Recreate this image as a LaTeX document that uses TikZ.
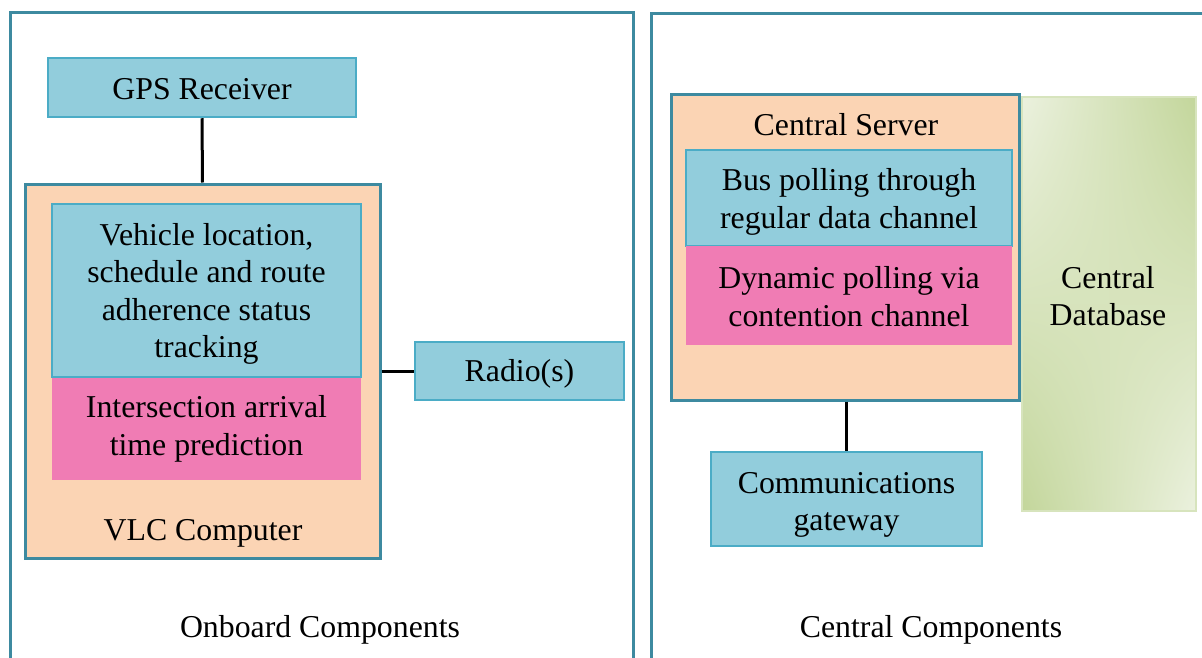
\documentclass[tikz,border=0pt]{standalone}
\usepackage{fontspec}
\setmainfont{Liberation Serif}
\usetikzlibrary{shadings}
\definecolor{panelc}{HTML}{3D8AA0}
\definecolor{bluef}{HTML}{92CDDC}
\definecolor{bluel}{HTML}{4BACC6}
\definecolor{peach}{HTML}{FBD4B4}
\definecolor{pinkf}{HTML}{F07CB4}
\definecolor{gdark}{HTML}{C3D69B}
\definecolor{glight}{HTML}{EBF1DE}
\definecolor{gline}{HTML}{D7E4BD}
\begin{document}
\begin{tikzpicture}[x=1pt,y=-1pt,
  txt/.style={font=\fontsize{31.8}{37.5}\selectfont, align=center, inner sep=0pt, text=black},
  bluebox/.style={draw=bluel, fill=bluef, line width=2.5pt, inner sep=0pt},
  pinkbox/.style={fill=pinkf, inner sep=0pt},
  peachbox/.style={draw=panelc, fill=peach, line width=3pt, inner sep=0pt},
  panel/.style={draw=panelc, line width=3pt},
  conn/.style={draw=black, line width=3pt}]
\useasboundingbox[fill=white] (0,0) rectangle (1202,658);
% panels
\draw[panel] (10,700) -- (10,13) -- (633,13) -- (633,700);
\draw[panel] (651,700) -- (651,14) -- (1230,14);
% left side
\node[bluebox, minimum width=308pt, minimum height=59pt] (gps) at (202,87.5) {};
\node[txt] (gpst) at (202,89) {GPS Receiver};
\node[peachbox, minimum width=355pt, minimum height=374pt] (vlc) at (202.5,371) {};
\node[bluebox, minimum width=309pt, minimum height=173pt] (track) at (206.5,290.5) {};
\node[txt] (trackt) at (206.5,294) {Vehicle location,\\schedule and route\\adherence status\\tracking};
\node[pinkbox, minimum width=309pt, minimum height=102pt] (pred) at (206.5,428.5) {};
\node[txt] (predt) at (206.5,429) {Intersection arrival\\time prediction};
\node[txt] (vlclabel) at (203,533) {VLC Computer};
\node[bluebox, minimum width=209pt, minimum height=58pt] (radio) at (519.5,371) {};
\node[txt] (radiot) at (519.5,374) {Radio(s)};
\draw[conn] (gps.south) -- (vlc.north);
\draw[conn] (vlc.east) -- (radio.west);
\node[txt] (onboard) at (320,630) {Onboard Components};
% right side
\shadedraw[upper left=glight, upper right=gdark, lower left=gdark, lower right=glight, draw=gline, line width=2pt] (1022,97) rectangle (1196,511);
\node[txt] (db) at (1108,296) {Central\\Database};
\node[peachbox, minimum width=348pt, minimum height=305pt] (server) at (845,247.5) {};
\node[txt] (serverlabel) at (846,125) {Central Server};
\node[bluebox, minimum width=326pt, minimum height=96pt] (poll) at (849,198) {};
\node[txt] (pollt) at (849,202) {Bus polling through\\regular data channel};
\node[pinkbox, minimum width=326pt, minimum height=99pt] (dyn) at (849,295.5) {};
\node[txt] (dynt) at (849,296.5) {Dynamic polling via\\contention channel};
\node[bluebox, minimum width=271pt, minimum height=94pt] (gw) at (846.5,499) {};
\node[txt] (gwt) at (846.5,505) {Communications\\gateway};
\draw[conn] (server.south -| gw.north) -- (gw.north);
\node[txt] (central) at (931,630) {Central Components};
\end{tikzpicture}
\end{document}
